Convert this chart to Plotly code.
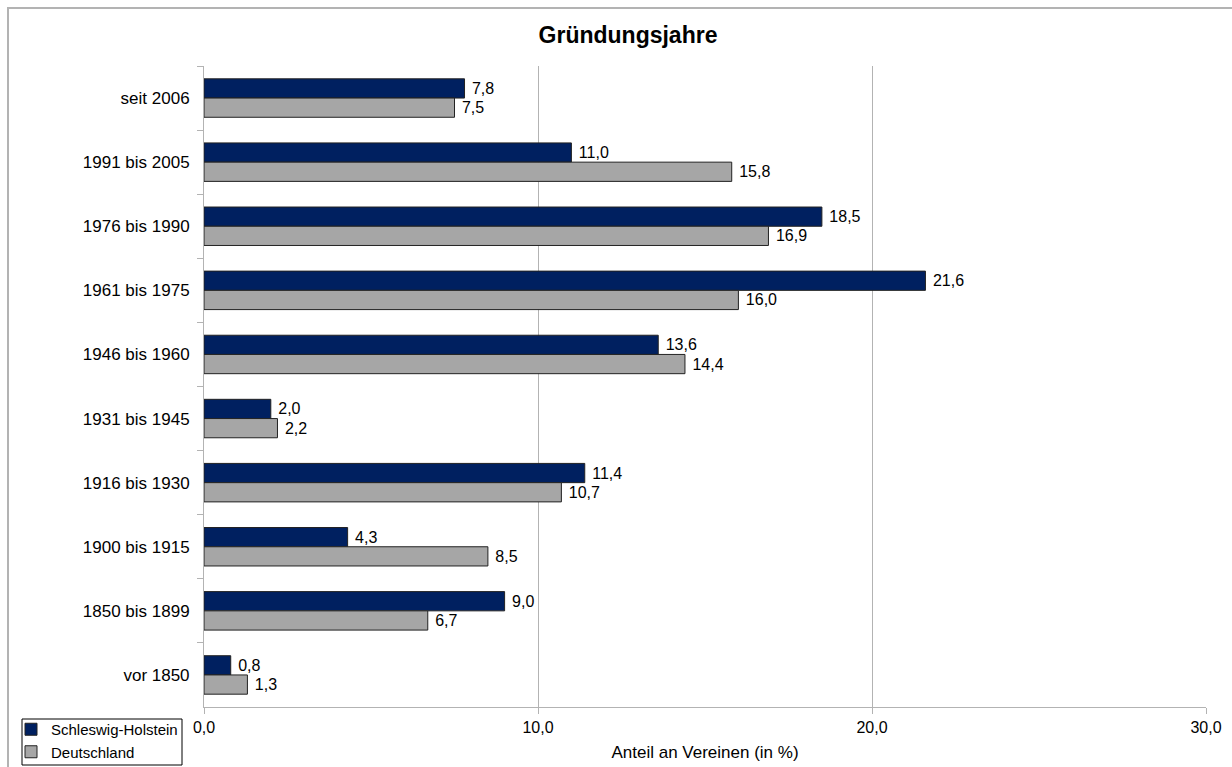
import plotly.graph_objects as go

categories = ["seit 2006", "1991 bis 2005", "1976 bis 1990", "1961 bis 1975", "1946 bis 1960",
              "1931 bis 1945", "1916 bis 1930", "1900 bis 1915", "1850 bis 1899", "vor 1850"]
schleswig_holstein = [7.8, 11.0, 18.5, 21.6, 13.6, 2.0, 11.4, 4.3, 9.0, 0.8]
deutschland = [7.5, 15.8, 16.9, 16.0, 14.4, 2.2, 10.7, 8.5, 6.7, 1.3]
x_ticks = [0, 10, 20, 30]

FONT = "Liberation Sans, Arial, sans-serif"
L, R, T, B = 204, 26, 66, 60
W, H = 1232, 767
pw, ph = W - L - R, H - T - B

def px(x):
    return (x - L) / pw

def py(y):
    return (H - B - y) / ph

fig = go.Figure()
fig.add_trace(go.Bar(
    y=categories, x=schleswig_holstein, orientation="h", name="Schleswig-Holstein",
    marker=dict(color="#002060", line=dict(color="#222222", width=1)),
    texttemplate="\u00a0%{x:.1f}", textposition="outside", cliponaxis=False,
    textfont=dict(family=FONT, size=16, color="#000000"),
))
fig.add_trace(go.Bar(
    y=categories, x=deutschland, orientation="h", name="Deutschland",
    marker=dict(color="#a6a6a6", line=dict(color="#222222", width=1)),
    texttemplate="\u00a0%{x:.1f}", textposition="outside", cliponaxis=False,
    textfont=dict(family=FONT, size=16, color="#000000"),
))

fig.update_layout(
    width=W, height=H,
    margin=dict(l=L, r=R, t=T, b=B, autoexpand=False),
    paper_bgcolor="white", plot_bgcolor="white",
    separators=",.",
    barmode="group", bargap=0.4, bargroupgap=0,
    font=dict(family=FONT, size=16, color="#000000"),
    title=dict(text="<b>Gründungsjahre</b>", x=628 / W, xanchor="center",
               y=1 - 35 / H, yanchor="middle", font=dict(family=FONT, size=23, color="#000000")),
    showlegend=True,
    legend=dict(x=px(11), y=py(713), xanchor="left", yanchor="top",
                borderwidth=0, bgcolor="rgba(0,0,0,0)",
                font=dict(family=FONT, size=15, color="#000000"),
                tracegroupgap=0, itemwidth=30),
    xaxis=dict(range=[0, 30], tickvals=x_ticks, tickformat=".1f", automargin=False,
               showgrid=True, gridcolor="#b3b3b3", gridwidth=1,
               showline=True, linecolor="#b3b3b3", linewidth=1,
               ticks="outside", ticklen=6, tickcolor="#b3b3b3",
               zeroline=False, tickfont=dict(family=FONT, size=16),
               title=dict(text="Anteil an Vereinen (in %)", standoff=10,
                          font=dict(family=FONT, size=17))),
    yaxis=dict(type="category", autorange="reversed", automargin=False,
               showline=True, linecolor="#b3b3b3", linewidth=1,
               ticks="outside", ticklen=6, tickcolor="#b3b3b3", tickson="boundaries",
               showgrid=False, tickfont=dict(family=FONT, size=17), ticklabelstandoff=10),
)

# outer chart border
fig.add_shape(type="rect", xref="paper", yref="paper",
              x0=px(8), x1=px(1250), y0=py(790), y1=py(8),
              line=dict(color="#b3b3b3", width=2), fillcolor="rgba(0,0,0,0)", layer="below")
# legend frame
fig.add_shape(type="rect", xref="paper", yref="paper",
              x0=px(22), x1=px(182), y0=py(765), y1=py(719),
              line=dict(color="#000000", width=1), fillcolor="white", layer="below")

fig.write_html("out.html")
